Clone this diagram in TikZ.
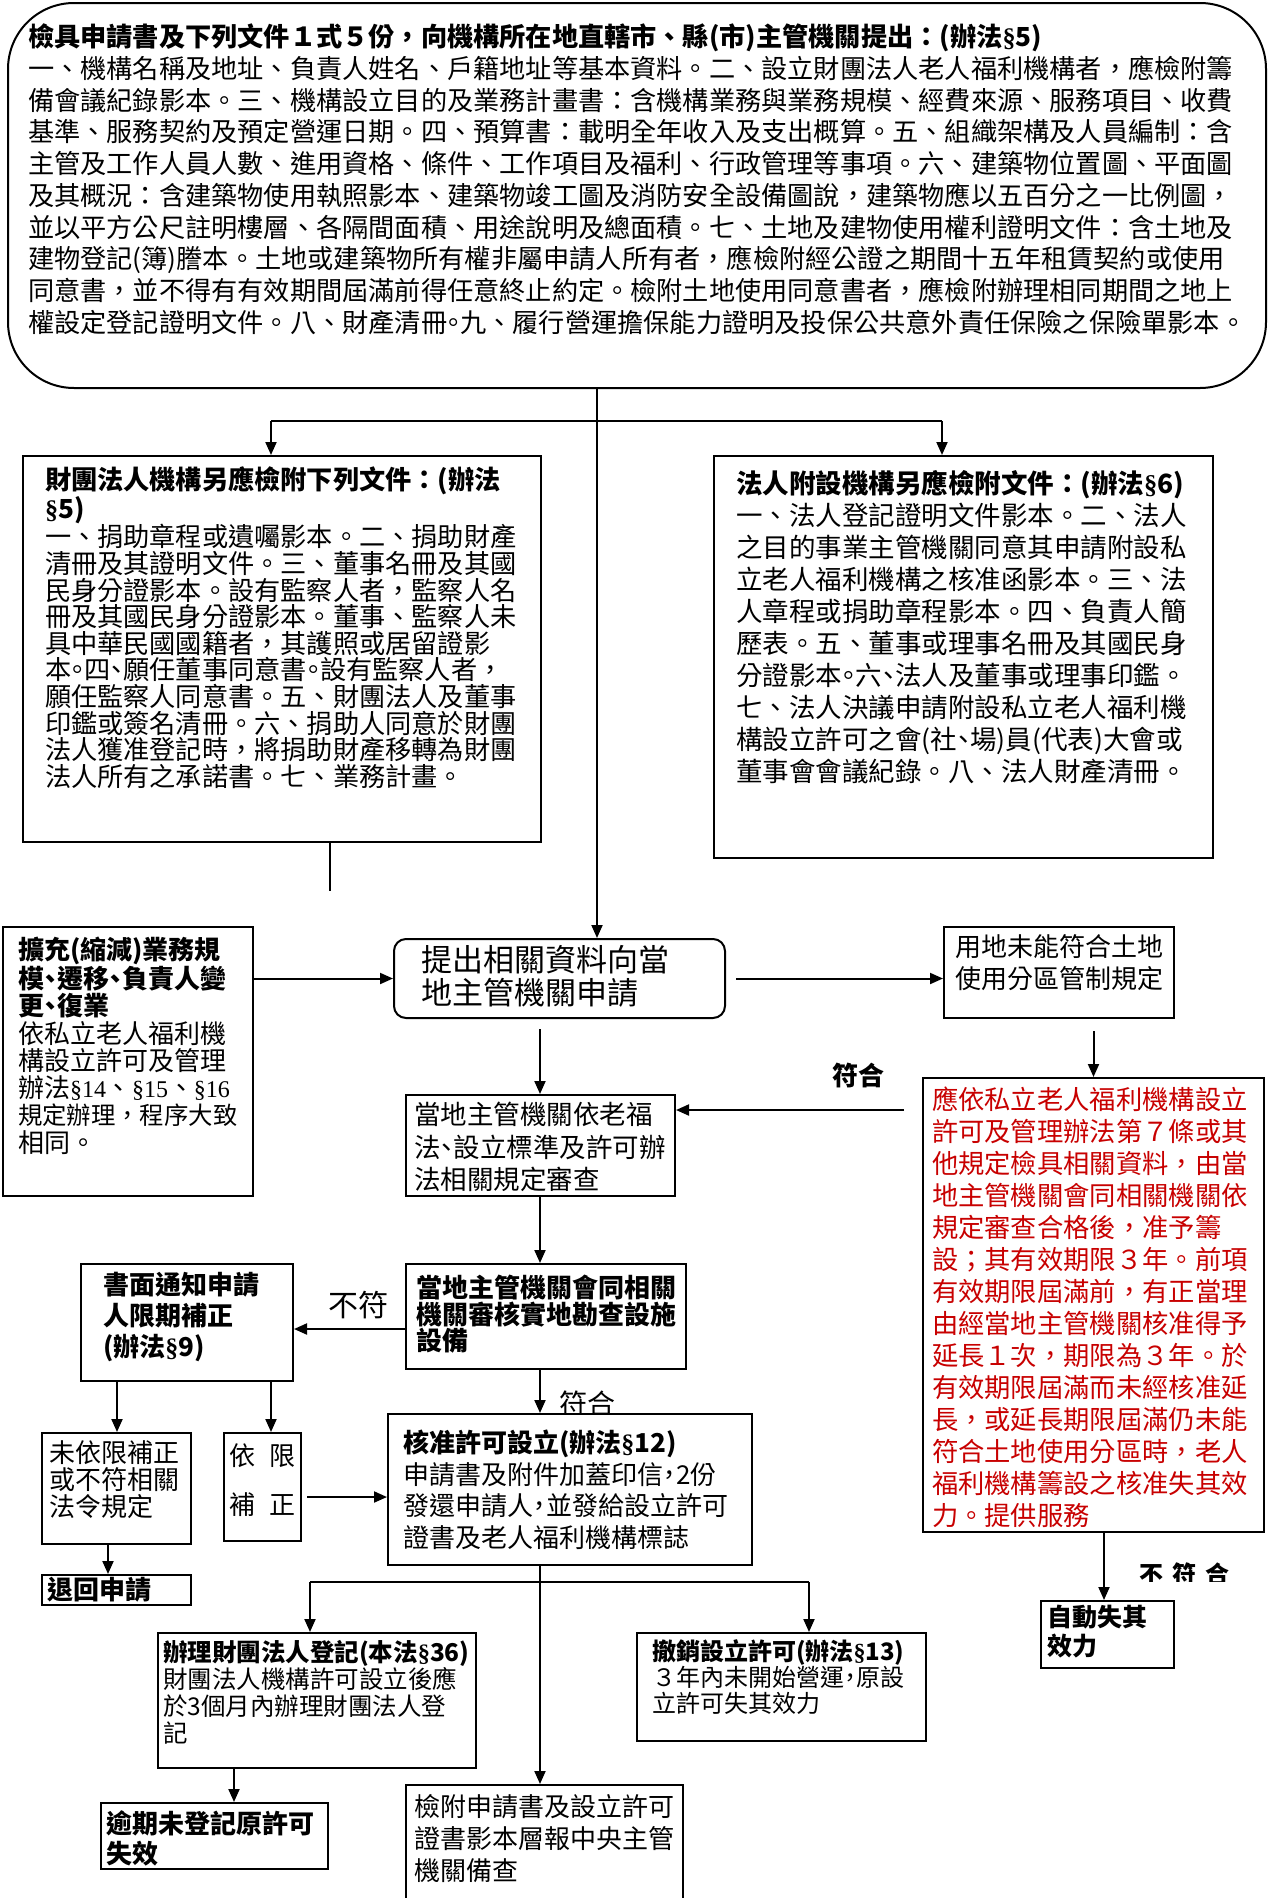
\documentclass[tikz,border=0pt]{standalone}
\usepackage{fontspec}
\setmainfont{Noto Sans CJK TC}
\newfontfamily\latinf{Liberation Serif}
\usetikzlibrary{arrows.meta}
\definecolor{hgred}{RGB}{200,0,0}
\newcommand{\fsz}[2]{\fontsize{#1}{#2}\selectfont}
\newcommand{\hw}[1]{{\addfontfeatures{RawFeature=+halt}#1}}
\newcommand{\sg}{{\latinf §}}
\newcommand{\sgs}[1]{{\latinf\fsz{24}{24}§#1}}
\newcommand{\inbox}[3]{\parbox[t][#2][t]{#1}{#3}}

\begin{document}
\begin{tikzpicture}[x=1pt, y=-1pt, line width=2pt, >={Triangle[length=13pt,width=11pt]},
    box/.style={draw, fill=white, anchor=north west, inner sep=0pt},
    lbl/.style={inner sep=0pt}]
    \useasboundingbox (0,0) rectangle (1271,1898);
    % application documents
    \node[box, rounded corners=66pt, inner xsep=20pt, inner ysep=21pt] (top) at (7,2) {\inbox{1218pt}{343pt}{\fsz{26.2}{31.7}%
    {\bfseries 檢具申請書及下列文件１式５份，向機構所在地直轄市、縣(市)主管機關提出：(辦法\sg5)}\\
    一、機構名稱及地址、負責人姓名、戶籍地址等基本資料。二、設立財團法人老人福利機構者，應檢附籌\\
    備會議紀錄影本。三、機構設立目的及業務計畫書：含機構業務與業務規模、經費來源、服務項目、收費\\
    基準、服務契約及預定營運日期。四、預算書：載明全年收入及支出概算。五、組織架構及人員編制：含\\
    主管及工作人員人數、進用資格、條件、工作項目及福利、行政管理等事項。六、建築物位置圖、平面圖\\
    及其概況：含建築物使用執照影本、建築物竣工圖及消防安全設備圖說，建築物應以五百分之一比例圖，\\
    並以平方公尺註明樓層、各隔間面積、用途說明及總面積。七、土地及建物使用權利證明文件：含土地及\\
    建物登記(簿)謄本。土地或建築物所有權非屬申請人所有者，應檢附經公證之期間十五年租賃契約或使用\\
    同意書，並不得有有效期間屆滿前得任意終止約定。檢附土地使用同意書者，應檢附辦理相同期間之地上\\
    權設定登記證明文件。八、財產清冊\hw{。}九、履行營運擔保能力證明及投保公共意外責任保險之保險單影本。}};
    \node[box, inner xsep=22pt, inner ysep=11pt] (lf) at (22,455) {\inbox{474pt}{364pt}{\fsz{26.2}{26.6}%
    {\bfseries 財團法人機構另應檢附下列文件：(辦法\\ \sg5)}\\
    一、捐助章程或遺囑影本。二、捐助財產\\
    清冊及其證明文件。三、董事名冊及其國\\
    民身分證影本。設有監察人者，監察人名\\
    冊及其國民身分證影本。董事、監察人未\\
    具中華民國國籍者，其護照或居留證影\\
    本\hw{。}四\hw{、}願任董事同意書\hw{。}設有監察人者，\\
    願任監察人同意書。五、財團法人及董事\\
    印鑑或簽名清冊。六、捐助人同意於財團\\
    法人獲准登記時，將捐助財產移轉為財團\\
    法人所有之承諾書。七、業務計畫。}};
    \node[box, inner xsep=22pt, inner ysep=14pt] (rt) at (713,455) {\inbox{455pt}{374pt}{\fsz{26.5}{32}%
    {\bfseries 法人附設機構另應檢附文件：(辦法\sg6)}\\
    一、法人登記證明文件影本。二、法人\\
    之目的事業主管機關同意其申請附設私\\
    立老人福利機構之核准函影本。三、法\\
    人章程或捐助章程影本。四、負責人簡\\
    歷表。五、董事或理事名冊及其國民身\\
    分證影本\hw{。}六\hw{、}法人及董事或理事印鑑。\\
    七、法人決議申請附設私立老人福利機\\
    構設立許可之會(社\hw{、}場)員(代表)大會或\\
    董事會會議紀錄。八、法人財產清冊。}};
    % application and review
    \node[box, rounded corners=12pt, inner xsep=27pt, inner ysep=6.5pt] (tc) at (393,938) {\inbox{277pt}{66pt}{\fsz{31}{33}提出相關資料向當\\地主管機關申請}};
    \node[box, inner xsep=15pt, inner ysep=10pt] (ks) at (2,926) {\inbox{220pt}{249pt}{\fsz{26}{27.3}%
    {\bfseries 擴充(縮減)業務規\\ 模\hw{、}遷移\hw{、}負責人變\\ 更\hw{、}復業}\\
    依私立老人福利機\\ 構設立許可及管理\\ 辦法\sgs{14}、\sgs{15}、\sgs{16}\\ {\fsz{24.4}{27.3}規定辦理，程序大致}\\ 相同。}};
    \node[box, inner xsep=11pt, inner ysep=8pt] (yd) at (943,926) {\inbox{208pt}{75pt}{\fsz{26}{32}用地未能符合土地\\使用分區管制規定}};
    \node[box, inner xsep=9pt, inner ysep=9pt] (hg) at (922,1077) {\inbox{323pt}{436pt}{\color{hgred}\fsz{26.3}{32}%
    應依私立老人福利機構設立\\ 許可及管理辦法第７條或其\\ 他規定檢具相關資料，由當\\ 地主管機關會同相關機關依\\
    規定審查合格後，准予籌\\ 設；其有效期限３年。前項\\ 有效期限屆滿前，有正當理\\ 由經當地主管機關核准得予\\
    延長１次，期限為３年。於\\ 有效期限屆滿而未經核准延\\ 長，或延長期限屆滿仍未能\\ 符合土地使用分區時，老人\\
    福利機構籌設之核准失其效\\ 力。提供服務}};
    \node[box, inner xsep=8pt, inner ysep=7pt] (ds) at (405,1094) {\inbox{253pt}{87pt}{\fsz{26.5}{32.7}當地主管機關依老福\\法\hw{、}設立標準及許可辦\\法相關規定審查}};
    \node[box, inner xsep=10pt, inner ysep=11pt] (hs) at (405,1263) {\inbox{260pt}{83pt}{\fsz{26}{26.6}\bfseries 當地主管機關會同相關\\機關審核實地勘查設施\\設備}};
    \node[box, inner xsep=22pt, inner ysep=8pt] (sm) at (80,1263) {\inbox{168pt}{101pt}{\fsz{26}{31}\bfseries 書面通知申請\\人限期補正\\(辦法\sg9)}};
    \node[box, inner xsep=7pt, inner ysep=8pt] (wy) at (41,1432) {\inbox{135pt}{95pt}{\fsz{26}{27}未依限補正\\或不符相關\\法令規定}};
    \node[box, inner xsep=5pt, inner ysep=11pt] (yx) at (223,1432) {\inbox{67pt}{86pt}{\fsz{26}{49}依\hfill 限\\補\hfill 正}};
    \node[box, inner xsep=5pt, inner ysep=2pt] (th) at (41,1574) {\inbox{139pt}{26pt}{\fsz{26}{30}\bfseries 退回申請}};
    % approval
    \node[lbl] (fh2) at (587,1404) {\fsz{28}{28}符合};
    \node[box, inner xsep=15pt, inner ysep=16pt] (hz) at (387,1413) {\inbox{334pt}{119pt}{\fsz{26}{31.5}%
    {\bfseries 核准許可設立(辦法\sg12)}\\申請書及附件加蓋印信\hw{，}2份\\發還申請人\hw{，}並發給設立許可\\證書及老人福利機構標誌}};
    \node[box, inner xsep=5pt, inner ysep=7pt] (bl) at (157,1632) {\inbox{308pt}{121pt}{\fsz{24.5}{27}%
    {\bfseries 辦理財團法人登記(本法\sg36)}\\財團法人機構許可設立後應\\於3個月內辦理財團法人登\\記}};
    \node[box, inner xsep=15pt, inner ysep=7pt] (cx) at (636,1632) {\inbox{259pt}{94pt}{\fsz{24}{26}%
    {\bfseries 撤銷設立許可(辦法\sg13)}\\３年內未開始營運\hw{，}原設\\立許可失其效力}};
    \node[box, inner xsep=5pt, inner ysep=8pt] (yq) at (100,1802) {\inbox{217pt}{50pt}{\fsz{26}{30}\bfseries 逾期未登記原許可\\失效}};
    \node[box, inner xsep=8pt, inner ysep=9pt] (jf) at (405,1784) {\inbox{261pt}{108pt}{\fsz{26}{32}檢附申請書及設立許可\\證書影本層報中央主管\\機關備查}};
    \node[box, inner xsep=6pt, inner ysep=4pt] (zd) at (1040,1600) {\inbox{121pt}{59pt}{\fsz{25}{29}\bfseries 自動失其\\效力}};
    % labels
    \node[lbl] (fh1) at (858,1075) {\fsz{26}{26}\bfseries 符合};
    \node[lbl] (bf) at (358,1305) {\fsz{30}{30}不符};
    \begin{scope}
        \clip (1120,1550) rectangle (1263,1581);
        \node[lbl] (bfh) at (1184,1574) {\fsz{24}{24}\bfseries 不\hspace{9pt}符\hspace{9pt}合};
    \end{scope}
    % connectors
    \coordinate (tj) at (597,421);
    \coordinate (b1) at (271,421);
    \coordinate (b2) at (942,421);
    \coordinate (tk) at (540,1582);
    \coordinate (f1) at (310,1582);
    \coordinate (f2) at (809,1582);
    \coordinate (fh) at (904,1110);
    \draw[->] (top.south -| tj) -- (tc.north -| tj);
    \draw (b1) -- (b2);
    \draw[->] (b1) -- (b1 |- lf.north);
    \draw[->] (b2) -- (b2 |- rt.north);
    \draw (lf.south) ++(48,0) -- ++(0,48);
    \draw[->] (ks.east |- tc.west) -- (tc.west);
    \draw[->] (tc.east) ++(10,0) -- (tc.east -| yd.west);
    \draw[->] (tc.south -| tk) ++(0,10) -- (ds.north -| tk);
    \draw[->] (yd.south -| hg.north) ++(0,12) -- (hg.north);
    \draw[->] (fh) -- (fh -| ds.east);
    \draw[->] (ds.south -| tk) -- (hs.north -| tk);
    \draw[->] (hs.west |- 0,1329) -- (sm.east |- 0,1329);
    \draw[->] (hs.south -| tk) -- (hz.north -| tk);
    \draw[->] (sm.south -| 117,0) -- (wy.north -| 117,0);
    \draw[->] (sm.south -| 271,0) -- (yx.north -| 271,0);
    \draw[->] (wy.south -| 108,0) -- (th.north -| 108,0);
    \draw[->] (yx.east |- 0,1497) ++(5,0) -- (hz.west |- 0,1497);
    \draw[->] (hz.south -| tk) -- (jf.north -| tk);
    \draw (f1) -- (f2);
    \draw[->] (f1) -- (f1 |- bl.north);
    \draw[->] (f2) -- (f2 |- cx.north);
    \draw[->] (bl.south -| 234,0) -- (yq.north -| 234,0);
    \draw[->] (hg.south -| 1104,0) -- (zd.north -| 1104,0);
\end{tikzpicture}
\end{document}
